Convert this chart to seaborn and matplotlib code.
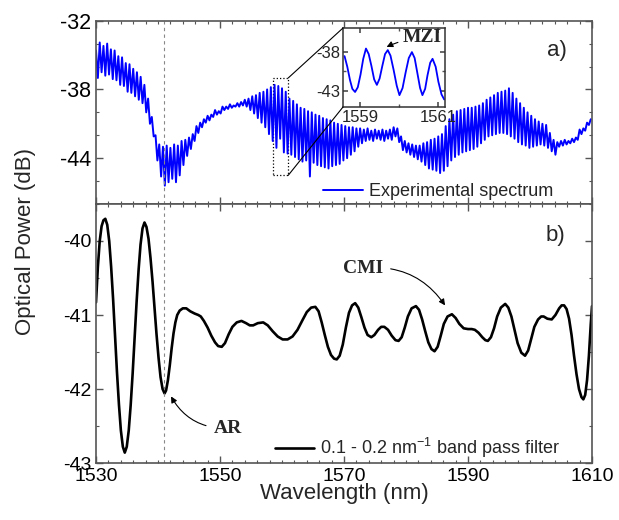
import numpy as np
import matplotlib
matplotlib.use("Agg")
import matplotlib.pyplot as plt
import seaborn as sns
from matplotlib.ticker import FixedLocator, MultipleLocator
from matplotlib.patches import Rectangle, ConnectionPatch

# measured spectrum, sampled every 0.3 nm from 1530 nm
# fringe tops (1530.0, 1530.6, ...) and fringe bottoms (1530.3, 1530.9, ...)
wl_step = 0.3
spec_hi = [
    -34.6, -33.9, -34.2, -34.0, -34.5, -34.6, -35.1, -35.2, -35.7, -35.8,
    -36.2, -36.5, -36.9, -37.6, -38.8, -40.4, -42.0, -42.8, -43.0, -42.9,
    -43.1, -42.8, -42.9, -42.5, -42.4, -42.2, -41.9, -41.2, -40.9, -40.6,
    -40.3, -40.2, -39.8, -39.9, -39.5, -39.5, -39.3, -39.4, -39.2, -39.1,
    -38.9, -38.8, -38.6, -38.5, -38.3, -38.2, -38.0, -37.8, -37.6, -37.7,
    -37.9, -38.2, -38.8, -39.0, -39.3, -39.6, -39.7, -39.9, -40.0, -40.2,
    -40.3, -40.5, -40.6, -40.7, -40.9, -41.0, -41.1, -41.2, -41.3, -41.3,
    -41.4, -41.4, -41.5, -41.4, -41.6, -41.5, -41.6, -41.5, -41.6, -41.5,
    -41.3, -41.4, -42.1, -42.5, -42.7, -42.8, -42.9, -42.9, -42.7, -42.6,
    -42.4, -42.3, -42.1, -41.9, -41.2, -40.6, -40.2, -39.9, -39.8, -39.7,
    -39.6, -39.6, -39.5, -39.4, -39.2, -38.9, -38.7, -38.5, -38.3, -38.2,
    -38.1, -37.9, -38.3, -38.8, -39.2, -39.6, -40.0, -40.3, -40.6, -40.8,
    -41.0, -41.1, -41.8, -42.4, -42.6, -42.5, -42.4, -42.5, -42.3, -42.2,
    -41.5, -41.4, -40.9, -40.6,
]
spec_lo = [
    -37.0, -36.5, -36.8, -36.7, -37.1, -37.2, -37.6, -37.7, -38.2, -38.3,
    -38.6, -38.9, -39.2, -40.0, -41.0, -42.1, -44.2, -45.6, -46.4, -46.1,
    -45.8, -46.1, -45.5, -44.6, -43.8, -43.2, -42.5, -41.8, -41.3, -40.9,
    -40.7, -40.4, -40.2, -40.1, -39.8, -39.7, -39.6, -39.5, -39.5, -39.4,
    -39.5, -39.8, -40.1, -40.5, -40.9, -41.3, -41.9, -42.5, -43.1, -42.3,
    -43.5, -43.6, -43.7, -43.9, -44.1, -44.3, -44.2, -45.6, -44.4, -44.6,
    -44.7, -44.8, -44.9, -44.7, -44.6, -44.5, -44.2, -44.0, -43.7, -43.4,
    -43.0, -42.7, -42.5, -42.4, -42.5, -42.3, -42.4, -42.5, -42.3, -42.4,
    -42.1, -42.6, -43.3, -43.5, -43.7, -43.9, -44.1, -44.3, -44.6, -44.9,
    -45.0, -45.1, -45.3, -45.1, -44.7, -44.2, -43.9, -43.7, -43.5, -43.4,
    -43.3, -43.2, -43.0, -42.7, -42.4, -42.1, -42.0, -41.9, -41.8, -41.8,
    -41.9, -42.1, -42.3, -42.6, -42.8, -42.9, -43.1, -43.0, -42.9, -42.8,
    -42.9, -43.1, -43.4, -43.7, -43.0, -42.9, -42.8, -42.7, -42.6, -42.4,
    -41.9, -41.6, -41.1,
]

# band pass filtered spectrum
filt_wl = [
    1530.0, 1530.3, 1530.6, 1530.9, 1531.2, 1531.5, 1531.81, 1532.13, 1532.44, 1532.76,
    1533.07, 1533.38, 1533.70, 1534.01, 1534.33, 1534.64, 1534.96, 1535.28, 1535.59, 1535.91,
    1536.23, 1536.55, 1536.87, 1537.18, 1537.50, 1537.82, 1538.14, 1538.47, 1538.79, 1539.12,
    1539.44, 1539.76, 1540.09, 1540.41, 1540.74, 1541.06, 1541.3, 1541.6, 1541.9, 1542.2,
    1542.5, 1542.8, 1543.1, 1543.5, 1544.0, 1544.56, 1545.2, 1545.9, 1546.5, 1546.9,
    1547.4, 1548.0, 1548.6, 1549.2, 1549.7, 1550.28, 1550.8, 1551.4, 1552.0, 1552.7,
    1553.46, 1554.2, 1554.8, 1555.35, 1556.1, 1556.97, 1557.7, 1558.5, 1559.3, 1560.1,
    1560.9, 1561.7, 1562.5, 1563.3, 1564.0, 1564.7, 1565.38, 1565.9, 1566.4, 1566.9,
    1567.4, 1567.9, 1568.4, 1568.83, 1569.3, 1569.8, 1570.3, 1570.8, 1571.3, 1571.8,
    1572.3, 1572.8, 1573.3, 1573.8, 1574.4, 1574.9, 1575.5, 1576.0, 1576.5, 1577.1,
    1577.7, 1578.3, 1578.8, 1579.3, 1579.8, 1580.3, 1580.9, 1581.6, 1582.1, 1582.6,
    1583.1, 1583.6, 1584.1, 1584.6, 1585.1, 1585.6, 1586.1, 1586.7, 1587.4, 1588.0,
    1588.6, 1589.3, 1590.0, 1590.6, 1591.1, 1591.7, 1592.3, 1592.8, 1593.2, 1593.7,
    1594.2, 1594.7, 1595.3, 1596.0, 1596.5, 1597.0, 1597.5, 1598.0, 1598.6, 1599.2,
    1599.7, 1600.2, 1600.7, 1601.3, 1601.8, 1602.2, 1602.8, 1603.5, 1604.1, 1604.7,
    1605.1, 1605.5, 1605.9, 1606.3, 1606.7, 1607.1, 1607.5, 1607.9, 1608.3, 1608.6,
    1608.9, 1609.2, 1609.5, 1609.8, 1610.0,
]
filt_db = [
    -40.83, -40.35, -40.0, -39.8, -39.72, -39.70, -39.78, -40.0, -40.35, -40.79,
    -41.28, -41.77, -42.21, -42.56, -42.78, -42.86, -42.78, -42.56, -42.22, -41.79,
    -41.30, -40.82, -40.39, -40.05, -39.83, -39.75, -39.81, -39.97, -40.23, -40.55,
    -40.90, -41.26, -41.58, -41.84, -42.00, -42.06, -42.02, -41.88, -41.68, -41.45,
    -41.25, -41.1, -41.0, -40.94, -40.91, -40.91, -40.95, -40.98, -41.0, -41.02,
    -41.08, -41.17, -41.28, -41.37, -41.42, -41.43, -41.38, -41.26, -41.16, -41.1,
    -41.08, -41.11, -41.14, -41.14, -41.11, -41.10, -41.14, -41.22, -41.29, -41.33,
    -41.33, -41.29, -41.2, -41.07, -40.96, -40.9, -40.89, -40.95, -41.1, -41.27,
    -41.43, -41.54, -41.59, -41.6, -41.55, -41.4, -41.17, -40.97, -40.87, -40.84,
    -40.9, -41.03, -41.17, -41.27, -41.30, -41.27, -41.2, -41.16, -41.16, -41.2,
    -41.28, -41.34, -41.35, -41.3, -41.17, -41.02, -40.91, -40.88, -40.93, -41.06,
    -41.22, -41.37, -41.46, -41.49, -41.43, -41.28, -41.12, -41.02, -40.99, -41.04,
    -41.12, -41.18, -41.19, -41.19, -41.2, -41.24, -41.3, -41.34, -41.35, -41.3,
    -41.18, -41.02, -40.9, -40.85, -40.9, -41.02, -41.2, -41.38, -41.51, -41.55,
    -41.48, -41.32, -41.16, -41.06, -41.02, -41.02, -41.05, -41.06, -41.0, -40.91,
    -40.87, -40.87, -40.92, -41.05, -41.27, -41.55, -41.8, -42.0, -42.11, -42.14,
    -42.08, -41.88, -41.55, -41.12, -40.88,
]

# zoom on the MZI fringes
mzi_wl = [
    1558.60, 1558.67, 1558.74, 1558.80, 1558.87, 1558.94, 1559.01, 1559.08, 1559.15, 1559.22,
    1559.29, 1559.36, 1559.43, 1559.50, 1559.57, 1559.64, 1559.71, 1559.78, 1559.86, 1559.94,
    1560.01, 1560.09, 1560.17, 1560.25, 1560.33, 1560.40, 1560.47, 1560.54, 1560.60, 1560.67,
    1560.73, 1560.80, 1560.86, 1560.94, 1561.01, 1561.09, 1561.16,
]
mzi_db = [
    -38.56, -39.9, -41.6, -42.7, -43.1, -42.5, -40.9, -38.9, -37.6, -38.3,
    -39.8, -41.5, -42.2, -41.4, -39.8, -38.3, -37.8, -38.5, -40.3, -42.3,
    -43.5, -42.6, -40.6, -38.8, -38.05, -38.8, -40.7, -42.6, -43.5, -42.7,
    -41.0, -39.4, -38.9, -39.9, -41.8, -43.4, -44.05,
]

ar_wl = 1540.9

spec_db = np.empty(len(spec_hi) + len(spec_lo))
spec_db[0::2] = spec_hi
spec_db[1::2] = spec_lo
spec_wl = 1530 + wl_step * np.arange(len(spec_db))

sns.set_theme(style="ticks")
plt.rcParams["font.family"] = ["Liberation Sans", "DejaVu Sans"]
plt.rcParams["mathtext.default"] = "regular"
plt.rcParams["axes.unicode_minus"] = False

frame = "#555555"
fig = plt.figure(figsize=(6.19, 5.2), dpi=100)
ax1 = fig.add_axes([0.1551, 0.6077, 0.8013, 0.3525])
ax2 = fig.add_axes([0.1551, 0.1096, 0.8013, 0.4981])

sns.lineplot(x=spec_wl, y=spec_db, ax=ax1, color="#0000ff", lw=1.4,
             estimator=None, sort=False, label="Experimental spectrum")
sns.lineplot(x=filt_wl, y=filt_db, ax=ax2, color="black", lw=1.9,
             estimator=None, sort=False, label="0.1 - 0.2 nm$^{-1}$ band pass filter")

for ax in (ax1, ax2):
    ax.axvline(ar_wl, color="#888888", ls=(0, (3, 3)), lw=0.8)
    ax.set_xlim(1530, 1610)
    ax.xaxis.set_major_locator(FixedLocator([1530, 1550, 1570, 1590, 1610]))
    ax.xaxis.set_minor_locator(MultipleLocator(2))
    ax.tick_params(which="both", direction="in", top=True, right=True,
                   color=frame, labelsize=14, labelcolor="black")
    ax.tick_params(which="major", length=5, width=1)
    ax.tick_params(which="minor", length=2.5, width=0.8)
    for s in ax.spines.values():
        s.set_color(frame)
        s.set_linewidth(1.2)
    ax.set_ylabel("")

ax1.set_ylim(-48, -32)
ax1.yaxis.set_major_locator(FixedLocator([-32, -38, -44]))
ax1.yaxis.set_minor_locator(MultipleLocator(2))
ax1.tick_params(axis="y", labelsize=15.5)
ax1.tick_params(labelbottom=False)
ax1.legend(loc="center right", bbox_to_anchor=(0.921, 0.066), frameon=False,
           fontsize=13, handlelength=2.2, handletextpad=0.3,
           borderpad=0, borderaxespad=0)
ax1.text(0.929, 0.84, "a)", transform=ax1.transAxes, ha="center", va="center", fontsize=16)

ax2.set_ylim(-43, -39.5)
ax2.yaxis.set_major_locator(FixedLocator([-40, -41, -42, -43]))
ax2.yaxis.set_minor_locator(MultipleLocator(0.5))
ax2.legend(loc="center right", bbox_to_anchor=(0.935, 0.058), frameon=False,
           fontsize=13, handlelength=2.2, handletextpad=0.3,
           borderpad=0, borderaxespad=0)
ax2.text(0.927, 0.88, "b)", transform=ax2.transAxes, ha="center", va="center", fontsize=16)
ax2.set_xlabel("Wavelength (nm)", fontsize=16, labelpad=-1)
fig.text(0.042, 0.535, "Optical Power (dB)", rotation=90, ha="center", va="center", fontsize=16)

serif = dict(family=["Liberation Serif", "DejaVu Serif"], fontweight="bold", fontsize=14)
arrow = dict(arrowstyle="-|>", color="black", lw=0.8, mutation_scale=9,
             shrinkA=3, shrinkB=0, connectionstyle="arc3,rad=-0.3")
ax2.annotate("CMI", xy=(1586.3, -40.87), xytext=(1573.1, -40.37),
             ha="center", va="center", arrowprops=arrow, **serif)
ax2.annotate("AR", xy=(1542.1, -42.1), xytext=(1551.2, -42.53),
             ha="center", va="center", arrowprops=arrow, **serif)

# zoom box and inset
ax1.add_patch(Rectangle((1558.5, -45.5), 2.5, 8.5, fill=False, ls=":", lw=0.9, color="black"))
axins = fig.add_axes([343 / 619, (520 - 107) / 520, 102 / 619, 79 / 520])
sns.lineplot(x=mzi_wl, y=mzi_db, ax=axins, color="#0000ff", lw=1.3, estimator=None, sort=False)
axins.set_xlim(1558.56, 1561.18)
axins.set_ylim(-45, -35)
axins.set_xticks([1559, 1561])
axins.set_yticks([-38, -43])
axins.xaxis.set_minor_locator(FixedLocator([1560]))
axins.yaxis.set_minor_locator(FixedLocator([-40.5]))
axins.tick_params(which="both", direction="in", top=True, right=True, color=frame,
                  labelsize=12, pad=2)
axins.tick_params(which="major", length=3.5)
axins.tick_params(which="minor", length=2)
for s in axins.spines.values():
    s.set_color("#333333")
    s.set_linewidth(1.1)
axins.set_xlabel("")
axins.set_ylabel("")
axins.annotate("MZI", xy=(1559.68, -37.4), xytext=(1560.59, -36.25), ha="center", va="center",
               arrowprops=dict(arrowstyle="-|>", color="black", lw=0.8, mutation_scale=9,
                               shrinkA=1, shrinkB=0, connectionstyle="arc3,rad=0.1"),
               family=["Liberation Serif", "DejaVu Serif"], fontweight="bold", fontsize=14)

for corner, yv in (((0, 1), -37.0), ((0, 0), -45.5)):
    con = ConnectionPatch(xyA=(1561.0, yv), coordsA=ax1.transData,
                          xyB=corner, coordsB=axins.transAxes, color="black", lw=0.8)
    fig.add_artist(con)

fig.savefig("out.png", dpi=100)
